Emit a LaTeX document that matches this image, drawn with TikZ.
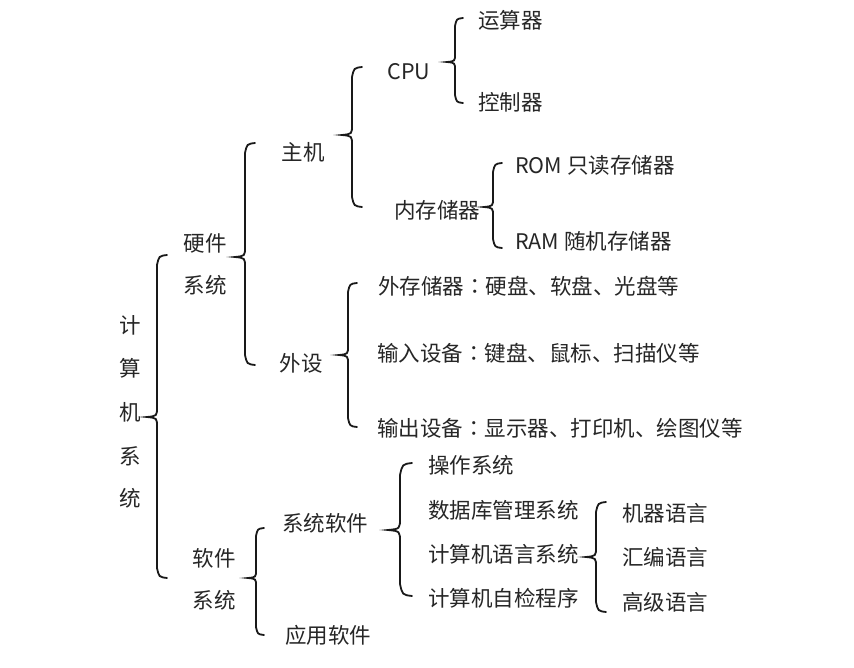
\documentclass[tikz,border=0pt]{standalone}
\usepackage{fontspec}
\setmainfont{Noto Sans CJK SC}
\newfontfamily\tcfont{Noto Sans CJK TC}
\newcommand\colonc{{\tcfont ：}}
\newcommand\cbrace[5]{%
  \draw[br] ({#1+#5},#2) .. controls ({#1+0.2*#5},{#2+0.1*#5}) .. (#1,{#2+#5})
    -- (#1,{#3-#5}) .. controls (#1,{#3-0.1*#5}) .. ({#1-#5},#3)
    .. controls (#1,{#3+0.1*#5}) .. (#1,{#3+#5})
    -- (#1,{#4-#5}) .. controls ({#1+0.2*#5},{#4-0.1*#5}) .. ({#1+#5},#4);}
\begin{document}
\begin{tikzpicture}[x=1pt,y=-1pt,
  txt/.style={inner sep=0pt, font=\fontsize{21.5}{24}\selectfont, text=black!85},
  lt/.style={txt, anchor=west},
  br/.style={line width=1.8pt, line cap=round, draw=black!90}]
\useasboundingbox[fill=white] (0,0) rectangle (854,668);
% braces: x, top, mid, bottom, width
\cbrace{157}{255}{417}{578}{10}
\cbrace{245}{143}{257}{365}{10}
\cbrace{352}{67}{135}{207}{10}
\cbrace{455}{18}{62}{103}{8}
\cbrace{493}{163}{207}{248}{9}
\cbrace{348}{283}{355}{427}{9}
\cbrace{256}{528}{578}{635}{8}
\cbrace{400}{463}{530}{596}{12}
\cbrace{596}{502}{557}{612}{10}
% root
\node[txt] (r1) at (130,325) {计};
\node[txt] (r2) at (130,368) {算};
\node[txt] (r3) at (130,412) {机};
\node[txt] (r4) at (130,456) {系};
\node[txt] (r5) at (130,498) {统};
% hardware
\node[txt] (hw1) at (205,243) {硬件};
\node[txt] (hw2) at (205,285) {系统};
\node[txt] (zj) at (303,152) {主机};
\node[txt] (cpu) at (409,72) {CPU};
\node[lt] (ys) at (478,20) {运算器};
\node[lt] (kz) at (478,102) {控制器};
\node[txt] (nc) at (437,210) {内存储器};
\node[lt] (rom) at (515,165) {ROM 只读存储器};
\node[lt] (ram) at (515,241) {RAM 随机存储器};
\node[txt] (ws) at (301,363) {外设};
\node[lt] (wc) at (378,286) {外存储器\colonc 硬盘、软盘、光盘等};
\node[lt] (sr) at (377,353) {输入设备\colonc 键盘、鼠标、扫描仪等};
\node[lt] (sc) at (377,428) {输出设备\colonc 显示器、打印机、绘图仪等};
% software
\node[txt] (sw1) at (214,558) {软件};
\node[txt] (sw2) at (214,600) {系统};
\node[txt] (xt) at (325,523) {系统软件};
\node[txt] (yy) at (328,635) {应用软件};
\node[lt] (cz) at (428,465) {操作系统};
\node[lt] (sj) at (428,510) {数据库管理系统};
\node[lt] (yx) at (428,554) {计算机语言系统};
\node[lt] (zj2) at (428,598) {计算机自检程序};
\node[lt] (jq) at (622,513) {机器语言};
\node[lt] (hb) at (622,557) {汇编语言};
\node[lt] (gj) at (622,602) {高级语言};
\end{tikzpicture}
\end{document}
